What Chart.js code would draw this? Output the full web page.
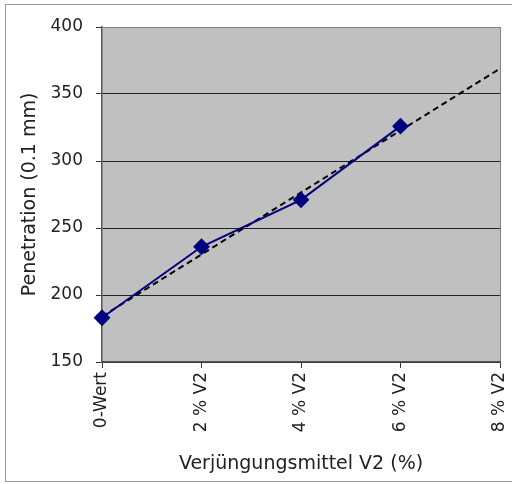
<!DOCTYPE html>
<html>
<head>
<meta charset="utf-8">
<script src="https://cdn.jsdelivr.net/npm/chart.js@4"></script>
<style>
  body { margin: 0; background: #fff; }
  #wrap { position: relative; width: 512px; height: 484px; }
  #frame { position: absolute; left: 5px; top: 4px; width: 506px; height: 476px; border: 1px solid #9a9a9a; border-right: none; pointer-events: none; }
</style>
</head>
<body>
<div id="wrap">
  <canvas id="myChart" width="512" height="484"></canvas>
  <div id="frame"></div>
</div>
<script>
const labels = ["0-Wert", "2 % V2", "4 % V2", "6 % V2", "8 % V2"];
const penetration = [183, 236, 271, 326, null];
// linear trend line, ends
const trend = [184, null, null, null, 369];
const yTicks = [150, 200, 250, 300, 350, 400];

const tickFont = { family: "DejaVu Sans", size: 17 };
const titleFont = { family: "DejaVu Sans", size: 19 };

// grey plot background like the old excel chart
const plotBg = {
  id: "plotBg",
  beforeDraw(chart) {
    const { ctx, chartArea: a } = chart;
    ctx.save();
    ctx.fillStyle = "#c0c0c0";
    ctx.fillRect(a.left, a.top, a.right - a.left, a.bottom - a.top);
    ctx.restore();
  },
};

let ctx = document.querySelector("#myChart").getContext("2d");

const config = {
  type: "line",
  data: {
    labels: labels,
    datasets: [
      {
        label: "Penetration",
        data: penetration,
        borderColor: "#000080",
        backgroundColor: "#000080",
        borderWidth: 2,
        pointStyle: "rectRot",
        pointRadius: 7,
        tension: 0,
      },
      {
        label: "Trend",
        data: trend,
        borderColor: "#000",
        borderWidth: 2,
        borderDash: [6, 4],
        pointRadius: 0,
        spanGaps: true,
        tension: 0,
      },
    ],
  },
  options: {
    responsive: false,
    animation: false,
    layout: { padding: { top: 27, right: 12, left: 0, bottom: 0 } },
    plugins: { legend: { display: false }, tooltip: { enabled: false } },
    scales: {
      x: {
        offset: false,
        border: { color: "#555", width: 1.5 },
        grid: {
          color: (c) => (c.index === labels.length - 1 ? "#808080" : "rgba(0,0,0,0)"),
          tickColor: "#333",
          tickLength: 6,
        },
        ticks: { color: "#222", font: tickFont, minRotation: 90, maxRotation: 90, padding: 4 },
        title: { display: true, text: "Verjüngungsmittel V2 (%)", color: "#222", font: titleFont, padding: { top: 0, bottom: 9 } },
        afterFit: (s) => {
          s.height = 122;
          s.paddingLeft = 0;
          s.paddingRight = 0;
        },
      },
      y: {
        min: 150,
        max: 400,
        border: { color: "#555", width: 1.5 },
        grid: {
          color: (c) => (c.tick && c.tick.value === 400 ? "#808080" : "#222"),
          tickColor: "#333",
          tickLength: 6,
        },
        afterBuildTicks: (s) => { s.ticks = yTicks.map((v) => ({ value: v })); },
        ticks: { color: "#222", font: tickFont, padding: 13 },
        title: { display: true, text: "Penetration (0.1 mm)", color: "#222", font: titleFont, padding: { top: 19, bottom: 0 } },
        afterFit: (s) => { s.width = 102; },
      },
    },
  },
  plugins: [plotBg],
};

const myChart = new Chart(ctx, config);
</script>
</body>
</html>
